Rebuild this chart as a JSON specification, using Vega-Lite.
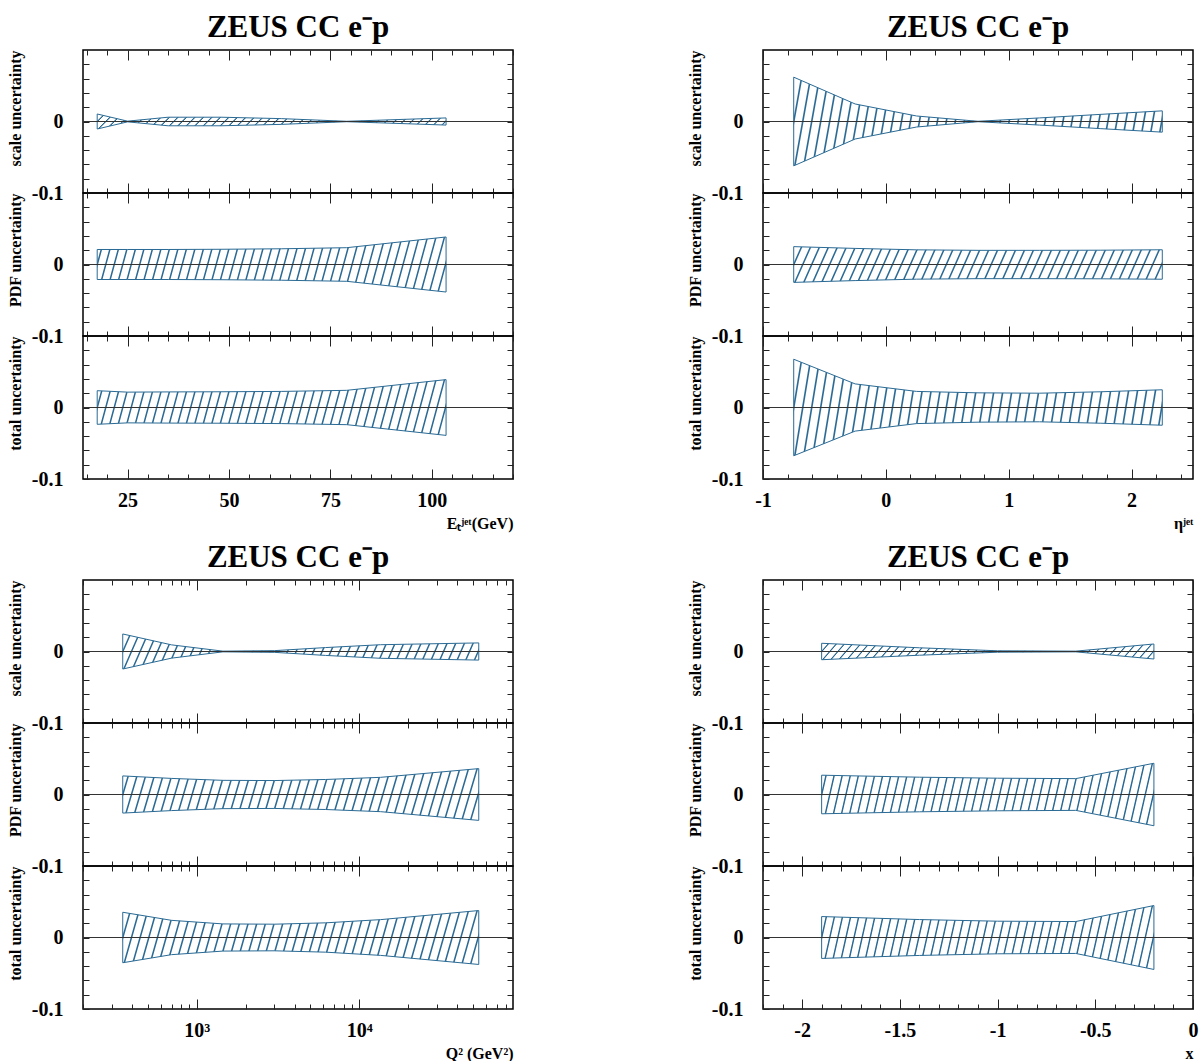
{
"$schema": "https://vega.github.io/schema/vega-lite/v6.json",
"background": "white",
"padding": {"left": 6, "top": 10, "right": 2, "bottom": 2},
"data": {"values": [
{"v":"E","k":"s","xv":17.5,"lo":-0.0105,"hi":0.0105},{"v":"E","k":"s","xv":25,"lo":-0.0005,"hi":0.0005},{"v":"E","k":"s","xv":35,"lo":-0.006,"hi":0.006},{"v":"E","k":"s","xv":48,"lo":-0.006,"hi":0.006},{"v":"E","k":"s","xv":63,"lo":-0.004,"hi":0.004},{"v":"E","k":"s","xv":79,"lo":-0.0003,"hi":0.0003},{"v":"E","k":"s","xv":103.5,"lo":-0.005,"hi":0.005},
{"v":"E","k":"p","xv":17.5,"lo":-0.021,"hi":0.021},{"v":"E","k":"p","xv":25,"lo":-0.021,"hi":0.021},{"v":"E","k":"p","xv":35,"lo":-0.021,"hi":0.021},{"v":"E","k":"p","xv":48,"lo":-0.0213,"hi":0.0213},{"v":"E","k":"p","xv":63,"lo":-0.022,"hi":0.022},{"v":"E","k":"p","xv":79,"lo":-0.0235,"hi":0.0235},{"v":"E","k":"p","xv":103.5,"lo":-0.0385,"hi":0.0385},
{"v":"E","k":"t","xv":17.5,"lo":-0.0235,"hi":0.0235},{"v":"E","k":"t","xv":25,"lo":-0.0215,"hi":0.0215},{"v":"E","k":"t","xv":35,"lo":-0.0218,"hi":0.0218},{"v":"E","k":"t","xv":48,"lo":-0.022,"hi":0.022},{"v":"E","k":"t","xv":63,"lo":-0.0225,"hi":0.0225},{"v":"E","k":"t","xv":79,"lo":-0.024,"hi":0.024},{"v":"E","k":"t","xv":103.5,"lo":-0.039,"hi":0.039},
{"v":"H","k":"s","xv":-0.75,"lo":-0.062,"hi":0.062},{"v":"H","k":"s","xv":-0.25,"lo":-0.0245,"hi":0.0245},{"v":"H","k":"s","xv":0.25,"lo":-0.0077,"hi":0.0077},{"v":"H","k":"s","xv":0.75,"lo":-0.0003,"hi":0.0003},{"v":"H","k":"s","xv":1.25,"lo":-0.005,"hi":0.005},{"v":"H","k":"s","xv":1.75,"lo":-0.01,"hi":0.01},{"v":"H","k":"s","xv":2.25,"lo":-0.0149,"hi":0.0149},
{"v":"H","k":"p","xv":-0.75,"lo":-0.025,"hi":0.025},{"v":"H","k":"p","xv":-0.25,"lo":-0.0225,"hi":0.0225},{"v":"H","k":"p","xv":0.25,"lo":-0.0205,"hi":0.0205},{"v":"H","k":"p","xv":0.75,"lo":-0.0198,"hi":0.0198},{"v":"H","k":"p","xv":1.25,"lo":-0.0198,"hi":0.0198},{"v":"H","k":"p","xv":1.75,"lo":-0.02,"hi":0.02},{"v":"H","k":"p","xv":2.25,"lo":-0.0206,"hi":0.0206},
{"v":"H","k":"t","xv":-0.75,"lo":-0.0675,"hi":0.0675},{"v":"H","k":"t","xv":-0.25,"lo":-0.033,"hi":0.033},{"v":"H","k":"t","xv":0.25,"lo":-0.0225,"hi":0.0225},{"v":"H","k":"t","xv":0.75,"lo":-0.0205,"hi":0.0205},{"v":"H","k":"t","xv":1.25,"lo":-0.02,"hi":0.02},{"v":"H","k":"t","xv":1.75,"lo":-0.022,"hi":0.022},{"v":"H","k":"t","xv":2.25,"lo":-0.0248,"hi":0.0248},
{"v":"Q","k":"s","xv":351,"lo":-0.0245,"hi":0.0245},{"v":"Q","k":"s","xv":700,"lo":-0.0093,"hi":0.0093},{"v":"Q","k":"s","xv":1450,"lo":-0.0005,"hi":0.0005},{"v":"Q","k":"s","xv":3000,"lo":-0.0012,"hi":0.0012},{"v":"Q","k":"s","xv":6200,"lo":-0.0055,"hi":0.0055},{"v":"Q","k":"s","xv":13500,"lo":-0.0095,"hi":0.0095},{"v":"Q","k":"s","xv":54200,"lo":-0.012,"hi":0.012},
{"v":"Q","k":"p","xv":351,"lo":-0.026,"hi":0.026},{"v":"Q","k":"p","xv":700,"lo":-0.0225,"hi":0.0225},{"v":"Q","k":"p","xv":1450,"lo":-0.0198,"hi":0.0198},{"v":"Q","k":"p","xv":3000,"lo":-0.0195,"hi":0.0195},{"v":"Q","k":"p","xv":6200,"lo":-0.021,"hi":0.021},{"v":"Q","k":"p","xv":13500,"lo":-0.024,"hi":0.024},{"v":"Q","k":"p","xv":54200,"lo":-0.0362,"hi":0.0362},
{"v":"Q","k":"t","xv":351,"lo":-0.0353,"hi":0.0353},{"v":"Q","k":"t","xv":700,"lo":-0.024,"hi":0.024},{"v":"Q","k":"t","xv":1450,"lo":-0.019,"hi":0.019},{"v":"Q","k":"t","xv":3000,"lo":-0.0186,"hi":0.0186},{"v":"Q","k":"t","xv":6200,"lo":-0.0205,"hi":0.0205},{"v":"Q","k":"t","xv":13500,"lo":-0.025,"hi":0.025},{"v":"Q","k":"t","xv":54200,"lo":-0.0377,"hi":0.0377},
{"v":"X","k":"s","xv":-1.9,"lo":-0.0115,"hi":0.0115},{"v":"X","k":"s","xv":-1.4,"lo":-0.0052,"hi":0.0052},{"v":"X","k":"s","xv":-1.0,"lo":-0.001,"hi":0.001},{"v":"X","k":"s","xv":-0.6,"lo":-0.0005,"hi":0.0005},{"v":"X","k":"s","xv":-0.2,"lo":-0.0105,"hi":0.0105},
{"v":"X","k":"p","xv":-1.9,"lo":-0.027,"hi":0.027},{"v":"X","k":"p","xv":-1.4,"lo":-0.0242,"hi":0.0242},{"v":"X","k":"p","xv":-1.0,"lo":-0.0228,"hi":0.0228},{"v":"X","k":"p","xv":-0.6,"lo":-0.0222,"hi":0.0222},{"v":"X","k":"p","xv":-0.2,"lo":-0.0437,"hi":0.0437},
{"v":"X","k":"t","xv":-1.9,"lo":-0.0293,"hi":0.0293},{"v":"X","k":"t","xv":-1.4,"lo":-0.0251,"hi":0.0251},{"v":"X","k":"t","xv":-1.0,"lo":-0.0228,"hi":0.0228},{"v":"X","k":"t","xv":-0.6,"lo":-0.0223,"hi":0.0223},{"v":"X","k":"t","xv":-0.2,"lo":-0.0447,"hi":0.0447}
]},
"columns": 2,
"spacing": {"row": 8, "column": 171},
"concat": [
{"spacing": 0, "bounds": "flush", "vconcat": [
 {"width": 430, "height": 143, "title": "ZEUS CC e⁻p", "transform": [{"filter": "datum.v == 'E' && datum.k == 's'"}],
  "layer": [
   {"mark": {"type": "area", "style": "hatch"}, "encoding": {
     "x": {"field": "xv", "type": "quantitative", "scale": {"domain": [14, 120], "nice": false, "zero": false}, "axis": {"values": [15,20,25,30,35,40,45,50,55,60,65,70,75,80,85,90,95,100,105,110,115,120], "labels": false, "title": null, "tickSize": {"condition": {"test": "datum.value % 25 == 0", "value": -10}, "value": -5}}},
     "y": {"field": "lo", "type": "quantitative", "scale": {"domain": [-0.1, 0.1], "nice": false, "zero": false}, "axis": {"values": [-0.1,-0.08,-0.06,-0.04,-0.02,0,0.02,0.04,0.06,0.08], "labelExpr": "datum.value == 0 ? '0' : (datum.value == -0.1 ? '-0.1' : '')", "title": "scale uncertainty"}},
     "y2": {"field": "hi"}}},
   {"mark": {"type": "rule", "color": "#333", "strokeWidth": 1}, "encoding": {"y": {"datum": 0, "type": "quantitative", "axis": {"orient": "right", "values": [-0.08,-0.06,-0.04,-0.02,0,0.02,0.04,0.06,0.08], "title": null}}}},
   {"mark": {"type": "point", "opacity": 0}, "encoding": {
     "x": {"field": "xv", "type": "quantitative", "axis": {"orient": "top", "values": [15,20,25,30,35,40,45,50,55,60,65,70,75,80,85,90,95,100,105,110,115,120], "title": null, "tickSize": {"condition": {"test": "datum.value % 25 == 0", "value": -10}, "value": -5}}},
     "y": {"field": "hi", "type": "quantitative", "axis": null}}}
  ], "resolve": {"axis": {"x": "independent", "y": "independent"}}},
 {"width": 430, "height": 143, "transform": [{"filter": "datum.v == 'E' && datum.k == 'p'"}],
  "layer": [
   {"mark": {"type": "area", "style": "hatch"}, "encoding": {
     "x": {"field": "xv", "type": "quantitative", "scale": {"domain": [14, 120], "nice": false, "zero": false}, "axis": {"values": [15,20,25,30,35,40,45,50,55,60,65,70,75,80,85,90,95,100,105,110,115,120], "labels": false, "title": null, "tickSize": {"condition": {"test": "datum.value % 25 == 0", "value": -10}, "value": -5}}},
     "y": {"field": "lo", "type": "quantitative", "scale": {"domain": [-0.1, 0.1], "nice": false, "zero": false}, "axis": {"values": [-0.1,-0.08,-0.06,-0.04,-0.02,0,0.02,0.04,0.06,0.08], "labelExpr": "datum.value == 0 ? '0' : (datum.value == -0.1 ? '-0.1' : '')", "title": "PDF uncertainty"}},
     "y2": {"field": "hi"}}},
   {"mark": {"type": "rule", "color": "#333", "strokeWidth": 1}, "encoding": {"y": {"datum": 0, "type": "quantitative", "axis": {"orient": "right", "values": [-0.08,-0.06,-0.04,-0.02,0,0.02,0.04,0.06,0.08], "title": null}}}},
   {"mark": {"type": "point", "opacity": 0}, "encoding": {
     "x": {"field": "xv", "type": "quantitative", "axis": {"orient": "top", "values": [15,20,25,30,35,40,45,50,55,60,65,70,75,80,85,90,95,100,105,110,115,120], "title": null, "tickSize": {"condition": {"test": "datum.value % 25 == 0", "value": -10}, "value": -5}}},
     "y": {"field": "hi", "type": "quantitative", "axis": null}}}
  ], "resolve": {"axis": {"x": "independent", "y": "independent"}}},
 {"width": 430, "height": 143, "transform": [{"filter": "datum.v == 'E' && datum.k == 't'"}],
  "layer": [
   {"mark": {"type": "area", "style": "hatch"}, "encoding": {
     "x": {"field": "xv", "type": "quantitative", "scale": {"domain": [14, 120], "nice": false, "zero": false}, "axis": {"values": [15,20,25,30,35,40,45,50,55,60,65,70,75,80,85,90,95,100,105,110,115,120], "labelExpr": "datum.value % 25 == 0 ? '' + datum.value : ''", "title": "Eₜʲᵉᵗ(GeV)", "tickSize": {"condition": {"test": "datum.value % 25 == 0", "value": -10}, "value": -5}}},
     "y": {"field": "lo", "type": "quantitative", "scale": {"domain": [-0.1, 0.1], "nice": false, "zero": false}, "axis": {"values": [-0.1,-0.08,-0.06,-0.04,-0.02,0,0.02,0.04,0.06,0.08], "labelExpr": "datum.value == 0 ? '0' : (datum.value == -0.1 ? '-0.1' : '')", "title": "total uncertainty"}},
     "y2": {"field": "hi"}}},
   {"mark": {"type": "rule", "color": "#333", "strokeWidth": 1}, "encoding": {"y": {"datum": 0, "type": "quantitative", "axis": {"orient": "right", "values": [-0.08,-0.06,-0.04,-0.02,0,0.02,0.04,0.06,0.08], "title": null}}}},
   {"mark": {"type": "point", "opacity": 0}, "encoding": {
     "x": {"field": "xv", "type": "quantitative", "axis": {"orient": "top", "values": [15,20,25,30,35,40,45,50,55,60,65,70,75,80,85,90,95,100,105,110,115,120], "title": null, "tickSize": {"condition": {"test": "datum.value % 25 == 0", "value": -10}, "value": -5}}},
     "y": {"field": "hi", "type": "quantitative", "axis": null}}}
  ], "resolve": {"axis": {"x": "independent", "y": "independent"}}}
]},
{"spacing": 0, "bounds": "flush", "vconcat": [
 {"width": 430, "height": 143, "title": "ZEUS CC e⁻p", "transform": [{"filter": "datum.v == 'H' && datum.k == 's'"}],
  "layer": [
   {"mark": {"type": "area", "style": "hatch"}, "encoding": {
     "x": {"field": "xv", "type": "quantitative", "scale": {"domain": [-1, 2.5], "nice": false, "zero": false}, "axis": {"values": [-1,-0.8,-0.6,-0.4,-0.2,0,0.2,0.4,0.6,0.8,1,1.2,1.4,1.6,1.8,2,2.2,2.4], "labels": false, "title": null, "tickSize": {"condition": {"test": "datum.value == round(datum.value)", "value": -10}, "value": -5}}},
     "y": {"field": "lo", "type": "quantitative", "scale": {"domain": [-0.1, 0.1], "nice": false, "zero": false}, "axis": {"values": [-0.1,-0.08,-0.06,-0.04,-0.02,0,0.02,0.04,0.06,0.08], "labelExpr": "datum.value == 0 ? '0' : (datum.value == -0.1 ? '-0.1' : '')", "title": "scale uncertainty"}},
     "y2": {"field": "hi"}}},
   {"mark": {"type": "rule", "color": "#333", "strokeWidth": 1}, "encoding": {"y": {"datum": 0, "type": "quantitative", "axis": {"orient": "right", "values": [-0.08,-0.06,-0.04,-0.02,0,0.02,0.04,0.06,0.08], "title": null}}}},
   {"mark": {"type": "point", "opacity": 0}, "encoding": {
     "x": {"field": "xv", "type": "quantitative", "axis": {"orient": "top", "values": [-1,-0.8,-0.6,-0.4,-0.2,0,0.2,0.4,0.6,0.8,1,1.2,1.4,1.6,1.8,2,2.2,2.4], "title": null, "tickSize": {"condition": {"test": "datum.value == round(datum.value)", "value": -10}, "value": -5}}},
     "y": {"field": "hi", "type": "quantitative", "axis": null}}}
  ], "resolve": {"axis": {"x": "independent", "y": "independent"}}},
 {"width": 430, "height": 143, "transform": [{"filter": "datum.v == 'H' && datum.k == 'p'"}],
  "layer": [
   {"mark": {"type": "area", "style": "hatch"}, "encoding": {
     "x": {"field": "xv", "type": "quantitative", "scale": {"domain": [-1, 2.5], "nice": false, "zero": false}, "axis": {"values": [-1,-0.8,-0.6,-0.4,-0.2,0,0.2,0.4,0.6,0.8,1,1.2,1.4,1.6,1.8,2,2.2,2.4], "labels": false, "title": null, "tickSize": {"condition": {"test": "datum.value == round(datum.value)", "value": -10}, "value": -5}}},
     "y": {"field": "lo", "type": "quantitative", "scale": {"domain": [-0.1, 0.1], "nice": false, "zero": false}, "axis": {"values": [-0.1,-0.08,-0.06,-0.04,-0.02,0,0.02,0.04,0.06,0.08], "labelExpr": "datum.value == 0 ? '0' : (datum.value == -0.1 ? '-0.1' : '')", "title": "PDF uncertainty"}},
     "y2": {"field": "hi"}}},
   {"mark": {"type": "rule", "color": "#333", "strokeWidth": 1}, "encoding": {"y": {"datum": 0, "type": "quantitative", "axis": {"orient": "right", "values": [-0.08,-0.06,-0.04,-0.02,0,0.02,0.04,0.06,0.08], "title": null}}}},
   {"mark": {"type": "point", "opacity": 0}, "encoding": {
     "x": {"field": "xv", "type": "quantitative", "axis": {"orient": "top", "values": [-1,-0.8,-0.6,-0.4,-0.2,0,0.2,0.4,0.6,0.8,1,1.2,1.4,1.6,1.8,2,2.2,2.4], "title": null, "tickSize": {"condition": {"test": "datum.value == round(datum.value)", "value": -10}, "value": -5}}},
     "y": {"field": "hi", "type": "quantitative", "axis": null}}}
  ], "resolve": {"axis": {"x": "independent", "y": "independent"}}},
 {"width": 430, "height": 143, "transform": [{"filter": "datum.v == 'H' && datum.k == 't'"}],
  "layer": [
   {"mark": {"type": "area", "style": "hatch"}, "encoding": {
     "x": {"field": "xv", "type": "quantitative", "scale": {"domain": [-1, 2.5], "nice": false, "zero": false}, "axis": {"values": [-1,-0.8,-0.6,-0.4,-0.2,0,0.2,0.4,0.6,0.8,1,1.2,1.4,1.6,1.8,2,2.2,2.4], "labelExpr": "datum.value == round(datum.value) ? '' + datum.value : ''", "title": "ηʲᵉᵗ", "tickSize": {"condition": {"test": "datum.value == round(datum.value)", "value": -10}, "value": -5}}},
     "y": {"field": "lo", "type": "quantitative", "scale": {"domain": [-0.1, 0.1], "nice": false, "zero": false}, "axis": {"values": [-0.1,-0.08,-0.06,-0.04,-0.02,0,0.02,0.04,0.06,0.08], "labelExpr": "datum.value == 0 ? '0' : (datum.value == -0.1 ? '-0.1' : '')", "title": "total uncertainty"}},
     "y2": {"field": "hi"}}},
   {"mark": {"type": "rule", "color": "#333", "strokeWidth": 1}, "encoding": {"y": {"datum": 0, "type": "quantitative", "axis": {"orient": "right", "values": [-0.08,-0.06,-0.04,-0.02,0,0.02,0.04,0.06,0.08], "title": null}}}},
   {"mark": {"type": "point", "opacity": 0}, "encoding": {
     "x": {"field": "xv", "type": "quantitative", "axis": {"orient": "top", "values": [-1,-0.8,-0.6,-0.4,-0.2,0,0.2,0.4,0.6,0.8,1,1.2,1.4,1.6,1.8,2,2.2,2.4], "title": null, "tickSize": {"condition": {"test": "datum.value == round(datum.value)", "value": -10}, "value": -5}}},
     "y": {"field": "hi", "type": "quantitative", "axis": null}}}
  ], "resolve": {"axis": {"x": "independent", "y": "independent"}}}
]},
{"spacing": 0, "bounds": "flush", "vconcat": [
 {"width": 430, "height": 143, "title": "ZEUS CC e⁻p", "transform": [{"filter": "datum.v == 'Q' && datum.k == 's'"}],
  "layer": [
   {"mark": {"type": "area", "style": "hatch"}, "encoding": {
     "x": {"field": "xv", "type": "quantitative", "scale": {"type": "log", "domain": [200, 88000], "nice": false}, "axis": {"values": [200,300,400,500,600,700,800,900,1000,2000,3000,4000,5000,6000,7000,8000,9000,10000,20000,30000,40000,50000,60000,70000,80000], "labels": false, "title": null, "tickSize": {"condition": {"test": "datum.value == 1000 || datum.value == 10000", "value": -10}, "value": -5}}},
     "y": {"field": "lo", "type": "quantitative", "scale": {"domain": [-0.1, 0.1], "nice": false, "zero": false}, "axis": {"values": [-0.1,-0.08,-0.06,-0.04,-0.02,0,0.02,0.04,0.06,0.08], "labelExpr": "datum.value == 0 ? '0' : (datum.value == -0.1 ? '-0.1' : '')", "title": "scale uncertainty"}},
     "y2": {"field": "hi"}}},
   {"mark": {"type": "rule", "color": "#333", "strokeWidth": 1}, "encoding": {"y": {"datum": 0, "type": "quantitative", "axis": {"orient": "right", "values": [-0.08,-0.06,-0.04,-0.02,0,0.02,0.04,0.06,0.08], "title": null}}}},
   {"mark": {"type": "point", "opacity": 0}, "encoding": {
     "x": {"field": "xv", "type": "quantitative", "axis": {"orient": "top", "values": [200,300,400,500,600,700,800,900,1000,2000,3000,4000,5000,6000,7000,8000,9000,10000,20000,30000,40000,50000,60000,70000,80000], "title": null, "tickSize": {"condition": {"test": "datum.value == 1000 || datum.value == 10000", "value": -10}, "value": -5}}},
     "y": {"field": "hi", "type": "quantitative", "axis": null}}}
  ], "resolve": {"axis": {"x": "independent", "y": "independent"}}},
 {"width": 430, "height": 143, "transform": [{"filter": "datum.v == 'Q' && datum.k == 'p'"}],
  "layer": [
   {"mark": {"type": "area", "style": "hatch"}, "encoding": {
     "x": {"field": "xv", "type": "quantitative", "scale": {"type": "log", "domain": [200, 88000], "nice": false}, "axis": {"values": [200,300,400,500,600,700,800,900,1000,2000,3000,4000,5000,6000,7000,8000,9000,10000,20000,30000,40000,50000,60000,70000,80000], "labels": false, "title": null, "tickSize": {"condition": {"test": "datum.value == 1000 || datum.value == 10000", "value": -10}, "value": -5}}},
     "y": {"field": "lo", "type": "quantitative", "scale": {"domain": [-0.1, 0.1], "nice": false, "zero": false}, "axis": {"values": [-0.1,-0.08,-0.06,-0.04,-0.02,0,0.02,0.04,0.06,0.08], "labelExpr": "datum.value == 0 ? '0' : (datum.value == -0.1 ? '-0.1' : '')", "title": "PDF uncertainty"}},
     "y2": {"field": "hi"}}},
   {"mark": {"type": "rule", "color": "#333", "strokeWidth": 1}, "encoding": {"y": {"datum": 0, "type": "quantitative", "axis": {"orient": "right", "values": [-0.08,-0.06,-0.04,-0.02,0,0.02,0.04,0.06,0.08], "title": null}}}},
   {"mark": {"type": "point", "opacity": 0}, "encoding": {
     "x": {"field": "xv", "type": "quantitative", "axis": {"orient": "top", "values": [200,300,400,500,600,700,800,900,1000,2000,3000,4000,5000,6000,7000,8000,9000,10000,20000,30000,40000,50000,60000,70000,80000], "title": null, "tickSize": {"condition": {"test": "datum.value == 1000 || datum.value == 10000", "value": -10}, "value": -5}}},
     "y": {"field": "hi", "type": "quantitative", "axis": null}}}
  ], "resolve": {"axis": {"x": "independent", "y": "independent"}}},
 {"width": 430, "height": 143, "transform": [{"filter": "datum.v == 'Q' && datum.k == 't'"}],
  "layer": [
   {"mark": {"type": "area", "style": "hatch"}, "encoding": {
     "x": {"field": "xv", "type": "quantitative", "scale": {"type": "log", "domain": [200, 88000], "nice": false}, "axis": {"values": [200,300,400,500,600,700,800,900,1000,2000,3000,4000,5000,6000,7000,8000,9000,10000,20000,30000,40000,50000,60000,70000,80000], "labelExpr": "datum.value == 1000 ? '10³' : (datum.value == 10000 ? '10⁴' : '')", "title": "Q² (GeV²)", "tickSize": {"condition": {"test": "datum.value == 1000 || datum.value == 10000", "value": -10}, "value": -5}}},
     "y": {"field": "lo", "type": "quantitative", "scale": {"domain": [-0.1, 0.1], "nice": false, "zero": false}, "axis": {"values": [-0.1,-0.08,-0.06,-0.04,-0.02,0,0.02,0.04,0.06,0.08], "labelExpr": "datum.value == 0 ? '0' : (datum.value == -0.1 ? '-0.1' : '')", "title": "total uncertainty"}},
     "y2": {"field": "hi"}}},
   {"mark": {"type": "rule", "color": "#333", "strokeWidth": 1}, "encoding": {"y": {"datum": 0, "type": "quantitative", "axis": {"orient": "right", "values": [-0.08,-0.06,-0.04,-0.02,0,0.02,0.04,0.06,0.08], "title": null}}}},
   {"mark": {"type": "point", "opacity": 0}, "encoding": {
     "x": {"field": "xv", "type": "quantitative", "axis": {"orient": "top", "values": [200,300,400,500,600,700,800,900,1000,2000,3000,4000,5000,6000,7000,8000,9000,10000,20000,30000,40000,50000,60000,70000,80000], "title": null, "tickSize": {"condition": {"test": "datum.value == 1000 || datum.value == 10000", "value": -10}, "value": -5}}},
     "y": {"field": "hi", "type": "quantitative", "axis": null}}}
  ], "resolve": {"axis": {"x": "independent", "y": "independent"}}}
]},
{"spacing": 0, "bounds": "flush", "vconcat": [
 {"width": 430, "height": 143, "title": "ZEUS CC e⁻p", "transform": [{"filter": "datum.v == 'X' && datum.k == 's'"}],
  "layer": [
   {"mark": {"type": "area", "style": "hatch"}, "encoding": {
     "x": {"field": "xv", "type": "quantitative", "scale": {"domain": [-2.2, 0], "nice": false, "zero": false}, "axis": {"values": [-2.2,-2.1,-2,-1.9,-1.8,-1.7,-1.6,-1.5,-1.4,-1.3,-1.2,-1.1,-1,-0.9,-0.8,-0.7,-0.6,-0.5,-0.4,-0.3,-0.2,-0.1,0], "labels": false, "title": null, "tickSize": {"condition": {"test": "abs(datum.value*2 - round(datum.value*2)) < 0.001", "value": -10}, "value": -5}}},
     "y": {"field": "lo", "type": "quantitative", "scale": {"domain": [-0.1, 0.1], "nice": false, "zero": false}, "axis": {"values": [-0.1,-0.08,-0.06,-0.04,-0.02,0,0.02,0.04,0.06,0.08], "labelExpr": "datum.value == 0 ? '0' : (datum.value == -0.1 ? '-0.1' : '')", "title": "scale uncertainty"}},
     "y2": {"field": "hi"}}},
   {"mark": {"type": "rule", "color": "#333", "strokeWidth": 1}, "encoding": {"y": {"datum": 0, "type": "quantitative", "axis": {"orient": "right", "values": [-0.08,-0.06,-0.04,-0.02,0,0.02,0.04,0.06,0.08], "title": null}}}},
   {"mark": {"type": "point", "opacity": 0}, "encoding": {
     "x": {"field": "xv", "type": "quantitative", "axis": {"orient": "top", "values": [-2.2,-2.1,-2,-1.9,-1.8,-1.7,-1.6,-1.5,-1.4,-1.3,-1.2,-1.1,-1,-0.9,-0.8,-0.7,-0.6,-0.5,-0.4,-0.3,-0.2,-0.1,0], "title": null, "tickSize": {"condition": {"test": "abs(datum.value*2 - round(datum.value*2)) < 0.001", "value": -10}, "value": -5}}},
     "y": {"field": "hi", "type": "quantitative", "axis": null}}}
  ], "resolve": {"axis": {"x": "independent", "y": "independent"}}},
 {"width": 430, "height": 143, "transform": [{"filter": "datum.v == 'X' && datum.k == 'p'"}],
  "layer": [
   {"mark": {"type": "area", "style": "hatch"}, "encoding": {
     "x": {"field": "xv", "type": "quantitative", "scale": {"domain": [-2.2, 0], "nice": false, "zero": false}, "axis": {"values": [-2.2,-2.1,-2,-1.9,-1.8,-1.7,-1.6,-1.5,-1.4,-1.3,-1.2,-1.1,-1,-0.9,-0.8,-0.7,-0.6,-0.5,-0.4,-0.3,-0.2,-0.1,0], "labels": false, "title": null, "tickSize": {"condition": {"test": "abs(datum.value*2 - round(datum.value*2)) < 0.001", "value": -10}, "value": -5}}},
     "y": {"field": "lo", "type": "quantitative", "scale": {"domain": [-0.1, 0.1], "nice": false, "zero": false}, "axis": {"values": [-0.1,-0.08,-0.06,-0.04,-0.02,0,0.02,0.04,0.06,0.08], "labelExpr": "datum.value == 0 ? '0' : (datum.value == -0.1 ? '-0.1' : '')", "title": "PDF uncertainty"}},
     "y2": {"field": "hi"}}},
   {"mark": {"type": "rule", "color": "#333", "strokeWidth": 1}, "encoding": {"y": {"datum": 0, "type": "quantitative", "axis": {"orient": "right", "values": [-0.08,-0.06,-0.04,-0.02,0,0.02,0.04,0.06,0.08], "title": null}}}},
   {"mark": {"type": "point", "opacity": 0}, "encoding": {
     "x": {"field": "xv", "type": "quantitative", "axis": {"orient": "top", "values": [-2.2,-2.1,-2,-1.9,-1.8,-1.7,-1.6,-1.5,-1.4,-1.3,-1.2,-1.1,-1,-0.9,-0.8,-0.7,-0.6,-0.5,-0.4,-0.3,-0.2,-0.1,0], "title": null, "tickSize": {"condition": {"test": "abs(datum.value*2 - round(datum.value*2)) < 0.001", "value": -10}, "value": -5}}},
     "y": {"field": "hi", "type": "quantitative", "axis": null}}}
  ], "resolve": {"axis": {"x": "independent", "y": "independent"}}},
 {"width": 430, "height": 143, "transform": [{"filter": "datum.v == 'X' && datum.k == 't'"}],
  "layer": [
   {"mark": {"type": "area", "style": "hatch"}, "encoding": {
     "x": {"field": "xv", "type": "quantitative", "scale": {"domain": [-2.2, 0], "nice": false, "zero": false}, "axis": {"values": [-2.2,-2.1,-2,-1.9,-1.8,-1.7,-1.6,-1.5,-1.4,-1.3,-1.2,-1.1,-1,-0.9,-0.8,-0.7,-0.6,-0.5,-0.4,-0.3,-0.2,-0.1,0], "labelExpr": "abs(datum.value*2 - round(datum.value*2)) < 0.001 ? '' + datum.value : ''", "title": "x", "tickSize": {"condition": {"test": "abs(datum.value*2 - round(datum.value*2)) < 0.001", "value": -10}, "value": -5}}},
     "y": {"field": "lo", "type": "quantitative", "scale": {"domain": [-0.1, 0.1], "nice": false, "zero": false}, "axis": {"values": [-0.1,-0.08,-0.06,-0.04,-0.02,0,0.02,0.04,0.06,0.08], "labelExpr": "datum.value == 0 ? '0' : (datum.value == -0.1 ? '-0.1' : '')", "title": "total uncertainty"}},
     "y2": {"field": "hi"}}},
   {"mark": {"type": "rule", "color": "#333", "strokeWidth": 1}, "encoding": {"y": {"datum": 0, "type": "quantitative", "axis": {"orient": "right", "values": [-0.08,-0.06,-0.04,-0.02,0,0.02,0.04,0.06,0.08], "title": null}}}},
   {"mark": {"type": "point", "opacity": 0}, "encoding": {
     "x": {"field": "xv", "type": "quantitative", "axis": {"orient": "top", "values": [-2.2,-2.1,-2,-1.9,-1.8,-1.7,-1.6,-1.5,-1.4,-1.3,-1.2,-1.1,-1,-0.9,-0.8,-0.7,-0.6,-0.5,-0.4,-0.3,-0.2,-0.1,0], "title": null, "tickSize": {"condition": {"test": "abs(datum.value*2 - round(datum.value*2)) < 0.001", "value": -10}, "value": -5}}},
     "y": {"field": "hi", "type": "quantitative", "axis": null}}}
  ], "resolve": {"axis": {"x": "independent", "y": "independent"}}}
]}
],
"config": {
 "font": "Liberation Serif",
 "view": {"stroke": "#000", "strokeWidth": 1.5},
 "axis": {"grid": false, "domain": false, "labelFont": "Liberation Serif", "labelFontWeight": "bold", "labelFontSize": 20, "labelColor": "#000", "labelFlush": false, "labelOverlap": false, "tickColor": "#222", "tickWidth": 1, "titleFont": "Liberation Serif", "titleFontWeight": "bold", "titleColor": "#000"},
 "axisLeft": {"tickSize": -6, "labelPadding": 26, "titleFontSize": 16, "titleAnchor": "end", "titlePadding": 8},
 "axisRight": {"tickSize": -6, "labels": false},
 "axisBottom": {"labelPadding": 21, "titleFontSize": 16, "titleAnchor": "end", "titlePadding": 0},
 "axisTop": {"labels": false},
 "title": {"font": "Liberation Serif", "fontWeight": "bold", "fontSize": 31, "color": "#000", "anchor": "middle", "frame": "group", "offset": 6},
 "area": {"stroke": "#2a6a94", "strokeWidth": 1},
 "style": {"hatch": {"stroke": "#2a6a94", "strokeWidth": 1}},
 "mark": {"color": {"gradient": "linear", "x1": 0, "y1": 0, "x2": 1.045, "y2": 0.045, "stops": [
{"offset":0,"color":"#fff"},
{"offset":0.0172,"color":"#fff"},{"offset":0.0199,"color":"#2a6a94"},{"offset":0.0215,"color":"#2a6a94"},{"offset":0.0242,"color":"#fff"},
{"offset":0.0405,"color":"#fff"},{"offset":0.0432,"color":"#2a6a94"},{"offset":0.0448,"color":"#2a6a94"},{"offset":0.0475,"color":"#fff"},
{"offset":0.0637,"color":"#fff"},{"offset":0.0664,"color":"#2a6a94"},{"offset":0.068,"color":"#2a6a94"},{"offset":0.0707,"color":"#fff"},
{"offset":0.087,"color":"#fff"},{"offset":0.0897,"color":"#2a6a94"},{"offset":0.0913,"color":"#2a6a94"},{"offset":0.094,"color":"#fff"},
{"offset":0.1102,"color":"#fff"},{"offset":0.1129,"color":"#2a6a94"},{"offset":0.1145,"color":"#2a6a94"},{"offset":0.1172,"color":"#fff"},
{"offset":0.1335,"color":"#fff"},{"offset":0.1362,"color":"#2a6a94"},{"offset":0.1378,"color":"#2a6a94"},{"offset":0.1405,"color":"#fff"},
{"offset":0.1567,"color":"#fff"},{"offset":0.1594,"color":"#2a6a94"},{"offset":0.161,"color":"#2a6a94"},{"offset":0.1637,"color":"#fff"},
{"offset":0.18,"color":"#fff"},{"offset":0.1827,"color":"#2a6a94"},{"offset":0.1843,"color":"#2a6a94"},{"offset":0.187,"color":"#fff"},
{"offset":0.2032,"color":"#fff"},{"offset":0.2059,"color":"#2a6a94"},{"offset":0.2075,"color":"#2a6a94"},{"offset":0.2102,"color":"#fff"},
{"offset":0.2265,"color":"#fff"},{"offset":0.2292,"color":"#2a6a94"},{"offset":0.2308,"color":"#2a6a94"},{"offset":0.2335,"color":"#fff"},
{"offset":0.2498,"color":"#fff"},{"offset":0.2525,"color":"#2a6a94"},{"offset":0.2541,"color":"#2a6a94"},{"offset":0.2568,"color":"#fff"},
{"offset":0.273,"color":"#fff"},{"offset":0.2757,"color":"#2a6a94"},{"offset":0.2773,"color":"#2a6a94"},{"offset":0.28,"color":"#fff"},
{"offset":0.2963,"color":"#fff"},{"offset":0.299,"color":"#2a6a94"},{"offset":0.3006,"color":"#2a6a94"},{"offset":0.3033,"color":"#fff"},
{"offset":0.3195,"color":"#fff"},{"offset":0.3222,"color":"#2a6a94"},{"offset":0.3238,"color":"#2a6a94"},{"offset":0.3265,"color":"#fff"},
{"offset":0.3428,"color":"#fff"},{"offset":0.3455,"color":"#2a6a94"},{"offset":0.3471,"color":"#2a6a94"},{"offset":0.3498,"color":"#fff"},
{"offset":0.366,"color":"#fff"},{"offset":0.3687,"color":"#2a6a94"},{"offset":0.3703,"color":"#2a6a94"},{"offset":0.373,"color":"#fff"},
{"offset":0.3893,"color":"#fff"},{"offset":0.392,"color":"#2a6a94"},{"offset":0.3936,"color":"#2a6a94"},{"offset":0.3963,"color":"#fff"},
{"offset":0.4125,"color":"#fff"},{"offset":0.4152,"color":"#2a6a94"},{"offset":0.4168,"color":"#2a6a94"},{"offset":0.4195,"color":"#fff"},
{"offset":0.4358,"color":"#fff"},{"offset":0.4385,"color":"#2a6a94"},{"offset":0.4401,"color":"#2a6a94"},{"offset":0.4428,"color":"#fff"},
{"offset":0.4591,"color":"#fff"},{"offset":0.4618,"color":"#2a6a94"},{"offset":0.4634,"color":"#2a6a94"},{"offset":0.4661,"color":"#fff"},
{"offset":0.4823,"color":"#fff"},{"offset":0.485,"color":"#2a6a94"},{"offset":0.4866,"color":"#2a6a94"},{"offset":0.4893,"color":"#fff"},
{"offset":0.5056,"color":"#fff"},{"offset":0.5083,"color":"#2a6a94"},{"offset":0.5099,"color":"#2a6a94"},{"offset":0.5126,"color":"#fff"},
{"offset":0.5288,"color":"#fff"},{"offset":0.5315,"color":"#2a6a94"},{"offset":0.5331,"color":"#2a6a94"},{"offset":0.5358,"color":"#fff"},
{"offset":0.5521,"color":"#fff"},{"offset":0.5548,"color":"#2a6a94"},{"offset":0.5564,"color":"#2a6a94"},{"offset":0.5591,"color":"#fff"},
{"offset":0.5753,"color":"#fff"},{"offset":0.578,"color":"#2a6a94"},{"offset":0.5796,"color":"#2a6a94"},{"offset":0.5823,"color":"#fff"},
{"offset":0.5986,"color":"#fff"},{"offset":0.6013,"color":"#2a6a94"},{"offset":0.6029,"color":"#2a6a94"},{"offset":0.6056,"color":"#fff"},
{"offset":0.6218,"color":"#fff"},{"offset":0.6245,"color":"#2a6a94"},{"offset":0.6261,"color":"#2a6a94"},{"offset":0.6288,"color":"#fff"},
{"offset":0.6451,"color":"#fff"},{"offset":0.6478,"color":"#2a6a94"},{"offset":0.6494,"color":"#2a6a94"},{"offset":0.6521,"color":"#fff"},
{"offset":0.6684,"color":"#fff"},{"offset":0.6711,"color":"#2a6a94"},{"offset":0.6727,"color":"#2a6a94"},{"offset":0.6754,"color":"#fff"},
{"offset":0.6916,"color":"#fff"},{"offset":0.6943,"color":"#2a6a94"},{"offset":0.6959,"color":"#2a6a94"},{"offset":0.6986,"color":"#fff"},
{"offset":0.7149,"color":"#fff"},{"offset":0.7176,"color":"#2a6a94"},{"offset":0.7192,"color":"#2a6a94"},{"offset":0.7219,"color":"#fff"},
{"offset":0.7381,"color":"#fff"},{"offset":0.7408,"color":"#2a6a94"},{"offset":0.7424,"color":"#2a6a94"},{"offset":0.7451,"color":"#fff"},
{"offset":0.7614,"color":"#fff"},{"offset":0.7641,"color":"#2a6a94"},{"offset":0.7657,"color":"#2a6a94"},{"offset":0.7684,"color":"#fff"},
{"offset":0.7846,"color":"#fff"},{"offset":0.7873,"color":"#2a6a94"},{"offset":0.7889,"color":"#2a6a94"},{"offset":0.7916,"color":"#fff"},
{"offset":0.8079,"color":"#fff"},{"offset":0.8106,"color":"#2a6a94"},{"offset":0.8122,"color":"#2a6a94"},{"offset":0.8149,"color":"#fff"},
{"offset":0.8312,"color":"#fff"},{"offset":0.8339,"color":"#2a6a94"},{"offset":0.8355,"color":"#2a6a94"},{"offset":0.8382,"color":"#fff"},
{"offset":0.8544,"color":"#fff"},{"offset":0.8571,"color":"#2a6a94"},{"offset":0.8587,"color":"#2a6a94"},{"offset":0.8614,"color":"#fff"},
{"offset":0.8777,"color":"#fff"},{"offset":0.8804,"color":"#2a6a94"},{"offset":0.882,"color":"#2a6a94"},{"offset":0.8847,"color":"#fff"},
{"offset":0.9009,"color":"#fff"},{"offset":0.9036,"color":"#2a6a94"},{"offset":0.9052,"color":"#2a6a94"},{"offset":0.9079,"color":"#fff"},
{"offset":0.9242,"color":"#fff"},{"offset":0.9269,"color":"#2a6a94"},{"offset":0.9285,"color":"#2a6a94"},{"offset":0.9312,"color":"#fff"},
{"offset":0.9474,"color":"#fff"},{"offset":0.9501,"color":"#2a6a94"},{"offset":0.9517,"color":"#2a6a94"},{"offset":0.9544,"color":"#fff"},
{"offset":0.9707,"color":"#fff"},{"offset":0.9734,"color":"#2a6a94"},{"offset":0.975,"color":"#2a6a94"},{"offset":0.9777,"color":"#fff"},
{"offset":1,"color":"#fff"}
]}}
}
}
